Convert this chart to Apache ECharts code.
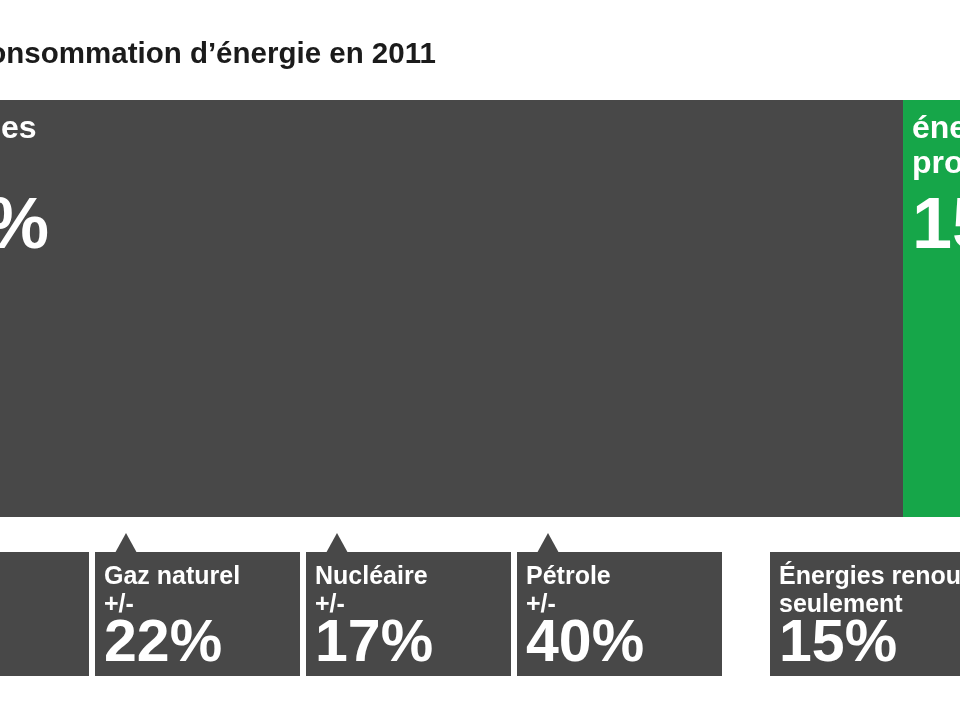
<!DOCTYPE html>
<html>
<head>
<meta charset="utf-8">
<script src="https://cdn.jsdelivr.net/npm/echarts@6/dist/echarts.min.js"></script>
<style>
  html, body { margin: 0; padding: 0; background: #fff; }
  #chart { width: 960px; height: 720px; }
</style>
</head>
<body>
<div id="chart"></div>
<script>
const chartTitle = "Consommation d’énergie en 2011";

// big 100% bar: share of the two groups
const shareLines = [["énergies", "sales"], ["énergies", "propres"]];
const shareValues = [85, 15];

// callout boxes under the bar
const sourceNames = ["Charbon", "Gaz naturel", "Nucléaire", "Pétrole"];
const sourceValues = [6, 22, 17, 40];
const renewName = "Énergies renouvelables";
const renewNote = "seulement";
const renewValue = 15;

const FONT = '"Liberation Sans", Arial, Helvetica, sans-serif';
const GREY = "#484848";
const GREEN = "#16a649";
const shareColors = [GREY, GREEN];

function shareLabel(i) {
    return "{n|" + shareLines[i][0] + "}\n{n|" + shareLines[i][1] + "}\n{p|" + shareValues[i] + "%}";
}

// text placed by its alphabetic baseline
function baselineText(str, x, baseline, size) {
    return {
        type: "text",
        x: x,
        y: baseline - size * 0.35,
        silent: true,
        style: {
            text: str,
            fill: "#fff",
            font: "bold " + size + "px " + FONT,
            verticalAlign: "middle",
            align: "left"
        }
    };
}

function callout(left, lines, value, pointer) {
    let els = [{
        type: "rect",
        silent: true,
        shape: { x: left, y: 552, width: 205, height: 124 },
        style: { fill: GREY }
    }];
    if (pointer) {
        els.push({
            type: "polygon",
            silent: true,
            shape: { points: [[left + 20, 553], [left + 31, 533], [left + 42, 553]] },
            style: { fill: GREY }
        });
    }
    els.push(baselineText(lines[0], left + 9, 586, 25));
    els.push(baselineText(lines[1], left + 9, 614, 25));
    els.push(baselineText(value + "%", left + 9, 665, 59));
    return els;
}

let graphics = [];
sourceNames.forEach((name, i) => {
    graphics = graphics.concat(callout(-116 + i * 211, [name, "+/-"], sourceValues[i], true));
});
graphics = graphics.concat(callout(770, [renewName, renewNote], renewValue, false));

let chart = echarts.init(document.getElementById("chart"));
chart.setOption({
    backgroundColor: "#fff",
    animation: false,
    title: {
        text: chartTitle,
        left: -33,
        top: 40,
        padding: 0,
        textStyle: { fontFamily: FONT, fontSize: 29.5, fontWeight: "bold", color: "#1b1b1b" }
    },
    grid: { left: 0, right: 0, top: 100, bottom: 203 },
    xAxis: { type: "value", min: 8.779, max: 89.81, show: false },
    yAxis: { type: "category", data: [""], show: false },
    series: shareValues.map((v, i) => ({
        type: "bar",
        stack: "total",
        data: [v],
        barWidth: "100%",
        clip: false,
        silent: true,
        itemStyle: { color: shareColors[i] },
        label: {
            show: true,
            position: [9, 12],
            formatter: shareLabel(i),
            rich: {
                n: { fontFamily: FONT, fontSize: 32, fontWeight: "bold", color: "#fff", lineHeight: 35 },
                p: { fontFamily: FONT, fontSize: 72, fontWeight: "bold", color: "#fff", lineHeight: 92 }
            }
        }
    })),
    graphic: graphics
});
</script>
</body>
</html>
